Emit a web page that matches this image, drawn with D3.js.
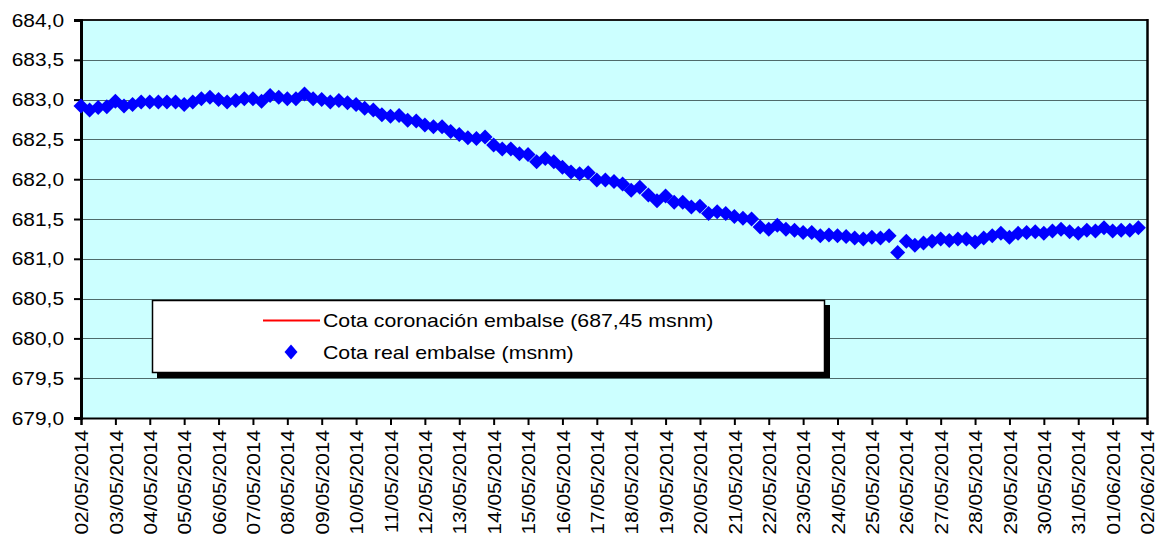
<!DOCTYPE html>
<html><head><meta charset="utf-8">
<script src="https://cdn.jsdelivr.net/npm/d3@7"></script>
<style>
html,body{margin:0;padding:0;background:#fff;}
svg{display:block;font-family:"Liberation Sans",Arial,sans-serif;}
</style></head>
<body><svg id="c" width="1156" height="540"></svg>
<script>
// ---- data ----
const dayLabels = ["02/05/2014","03/05/2014","04/05/2014","05/05/2014","06/05/2014","07/05/2014","08/05/2014","09/05/2014","10/05/2014","11/05/2014","12/05/2014","13/05/2014","14/05/2014","15/05/2014","16/05/2014","17/05/2014","18/05/2014","19/05/2014","20/05/2014","21/05/2014","22/05/2014","23/05/2014","24/05/2014","25/05/2014","26/05/2014","27/05/2014","28/05/2014","29/05/2014","30/05/2014","31/05/2014","01/06/2014","02/06/2014"];
const readingHours = [0, 6, 12, 18];
const yTicks = [679.0, 679.5, 680.0, 680.5, 681.0, 681.5, 682.0, 682.5, 683.0, 683.5, 684.0];
const cotaReal = [
682.92,682.87,682.90,682.91, 682.98,682.92,682.94,682.97, 682.97,682.97,682.97,682.97,
682.94,682.97,683.01,683.03, 683.00,682.97,682.99,683.01, 683.01,682.98,683.05,683.03,
683.01,683.01,683.07,683.01, 683.00,682.97,682.99,682.96, 682.94,682.89,682.87,682.81,
682.79,682.80,682.74,682.73, 682.68,682.66,682.66,682.60, 682.56,682.52,682.51,682.53,
682.43,682.38,682.38,682.32, 682.31,682.22,682.26,682.22, 682.15,682.09,682.07,682.08,
681.99,681.99,681.97,681.94, 681.86,681.90,681.80,681.73, 681.79,681.71,681.71,681.65,
681.66,681.57,681.59,681.57, 681.53,681.51,681.50,681.40, 681.37,681.42,681.37,681.36,
681.33,681.33,681.29,681.30, 681.29,681.28,681.26,681.25, 681.27,681.26,681.29,681.08,
681.22,681.17,681.20,681.22, 681.25,681.23,681.25,681.25, 681.21,681.26,681.29,681.32,
681.27,681.32,681.33,681.34, 681.32,681.35,681.37,681.34, 681.32,681.36,681.35,681.39,
681.35,681.36,681.36,681.39];
const cotaCoronacion = [687.45, 687.45];
const legendLabels = ["Cota coronación embalse (687,45 msnm)", "Cota real embalse (msnm)"];

// ---- build ----
const parseDay = d3.timeParse("%d/%m/%Y");
const dayDates = dayLabels.map(parseDay);
const readings = [];
for (let d = 0; d < dayDates.length && readings.length < cotaReal.length; d++) {
  for (const h of readingHours) {
    if (readings.length >= cotaReal.length) break;
    const t = new Date(dayDates[d]); t.setHours(h);
    readings.push({t, v: cotaReal[readings.length]});
  }
}

const svg = d3.select("#c");
const L = 81, R = 1147, T = 20, B = 418;
const x = d3.scaleTime().domain([dayDates[0], dayDates[dayDates.length-1]]).range([L, R]);
const y = d3.scaleLinear().domain([679, 684]).range([B, T]);
const FONT = 19, STRETCH = 1.1;

function stretch(sel, k) {
  sel.each(function(){ const w = this.getComputedTextLength(); d3.select(this).attr("textLength", w * k).attr("lengthAdjust", "spacingAndGlyphs"); });
}

// plot background
svg.append("rect").attr("x", L).attr("y", T).attr("width", R - L).attr("height", B - T).attr("fill", "#CCFFFF");

// gridlines
svg.append("g").selectAll("line").data(yTicks.filter(v => v > 679 && v < 684)).join("line")
  .attr("x1", L).attr("x2", R).attr("y1", d => Math.round(y(d)) + 0.5).attr("y2", d => Math.round(y(d)) + 0.5)
  .attr("stroke", "#4f6b6b").attr("stroke-width", 1.2);

// clip
svg.append("clipPath").attr("id", "pc").append("rect").attr("x", L).attr("y", T).attr("width", R - L).attr("height", B - T);

// red line (crest level, above visible range)
svg.append("path").attr("clip-path", "url(#pc)")
  .datum([dayDates[0], dayDates[dayDates.length-1]].map((t,i) => ({t, v: cotaCoronacion[i]})))
  .attr("d", d3.line().x(d => x(d.t)).y(d => y(d.v)))
  .attr("fill", "none").attr("stroke", "#FF0000").attr("stroke-width", 2);

// border (top & right)
svg.append("line").attr("x1", L).attr("x2", R + 1).attr("y1", T).attr("y2", T).attr("stroke", "#1a1a1a").attr("stroke-width", 2);
svg.append("line").attr("x1", R + 0.5).attr("x2", R + 0.5).attr("y1", T - 1).attr("y2", B).attr("stroke", "#000").attr("stroke-width", 2.5);

// y axis
const yAxis = d3.axisLeft(y).tickValues(yTicks).tickSize(7).tickPadding(10)
  .tickFormat(d => d3.format(".1f")(d).replace(".", ","));
const gy = svg.append("g").attr("transform", `translate(${L},0)`).call(yAxis);
gy.select(".domain").attr("stroke", "#000").attr("stroke-width", 3);
gy.selectAll(".tick line").attr("stroke", "#000").attr("stroke-width", 2);
gy.selectAll(".tick text").attr("font-size", FONT).attr("fill", "#000").attr("font-family", "Liberation Sans, Arial, sans-serif").call(stretch, STRETCH);

// x axis
const xAxis = d3.axisBottom(x).tickValues(dayDates).tickSize(7).tickPadding(0).tickFormat((d, i) => dayLabels[i]);
const gx = svg.append("g").attr("transform", `translate(0,${B})`).call(xAxis);
gx.select(".domain").attr("stroke", "#000").attr("stroke-width", 2);
gx.selectAll(".tick line").attr("stroke", "#000").attr("stroke-width", 2);
gx.selectAll(".tick text").attr("font-size", FONT).attr("fill", "#000").attr("font-family", "Liberation Sans, Arial, sans-serif")
  .attr("text-anchor", "end").attr("transform", "rotate(-90)").attr("x", -12).attr("y", 0).attr("dy", "0.35em")
  .call(stretch, STRETCH);

// markers
const diamond = (hw, hh) => `M0,${-hh}L${hw},0L0,${hh}L${-hw},0Z`;
svg.append("g").selectAll("path").data(readings).join("path")
  .attr("transform", d => `translate(${x(d.t)},${y(d.v)})`)
  .attr("d", diamond(7.5, 7.5)).attr("fill", "#0000FF");

// legend
const lg = svg.append("g");
lg.append("rect").attr("x", 157).attr("y", 305).attr("width", 673).attr("height", 73).attr("fill", "#000");
lg.append("rect").attr("x", 152.5).attr("y", 300.5).attr("width", 672).attr("height", 72).attr("fill", "#fff").attr("stroke", "#000").attr("stroke-width", 1.5);
lg.append("line").attr("x1", 263).attr("x2", 320).attr("y1", 320.5).attr("y2", 320.5).attr("stroke", "#FF0000").attr("stroke-width", 2);
lg.append("path").attr("transform", "translate(291,352)").attr("d", diamond(6.5, 7.5)).attr("fill", "#0000FF");
lg.selectAll("text.lt").data(legendLabels).join("text").attr("class", "lt")
  .attr("x", 323).attr("y", (d, i) => i ? 352 : 320.5).attr("dy", "0.35em")
  .attr("font-size", FONT).attr("fill", "#000").text(d => d).call(stretch, 1.12);
</script></body></html>
